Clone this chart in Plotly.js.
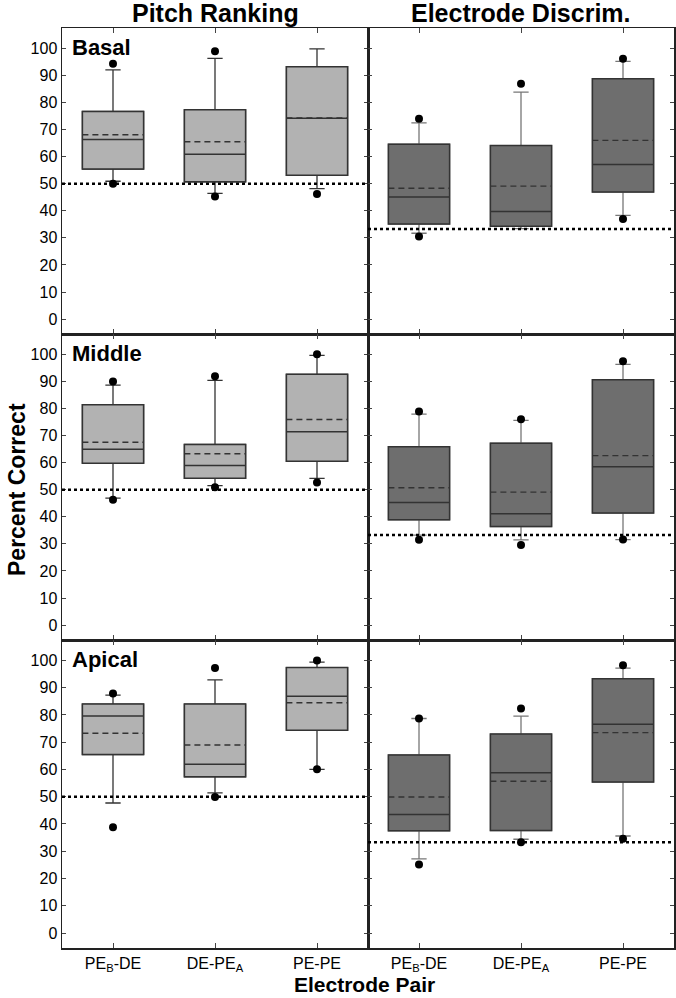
<!DOCTYPE html>
<html><head><meta charset="utf-8">
<script src="https://cdn.plot.ly/plotly-3.0.1.min.js"></script>
<style>body{margin:0;background:#fff}#c{width:676px;height:998px}</style>
</head><body><div id="c"></div>
<script>
// Categories and tick labels
const categories = [0, 1, 2];
const tickLabels = ["PE<sub>B</sub>-DE", "DE-PE<sub>A</sub>", "PE-PE"];
const regions = ["Basal", "Middle", "Apical"];
const tasks = ["Pitch Ranking", "Electrode Discrim."];
const chance = [50, 33.3];

// Pitch Ranking — Basal
const prBasal_q1 = [55.4, 50.7, 53.1];
const prBasal_med = [66.3, 60.9, 74.2];
const prBasal_q3 = [76.7, 77.3, 93.2];
const prBasal_lo = [50.9, 46.4, 48.2];
const prBasal_hi = [92.0, 96.3, 99.8];
const prBasal_mean = [68.1, 65.5, 74.3];
const prBasal_dotLo = [50.0, 45.3, 46.2];
const prBasal_dotHi = [94.3, 98.9, null];

// Electrode Discrim — Basal
const edBasal_q1 = [35.1, 34.3, 46.9];
const edBasal_med = [45.1, 39.7, 57.1];
const edBasal_q3 = [64.6, 64.1, 88.8];
const edBasal_lo = [31.7, 33.4, 38.3];
const edBasal_hi = [72.5, 83.8, 95.2];
const edBasal_mean = [48.3, 49.1, 66.0];
const edBasal_dotLo = [30.5, null, 37.0];
const edBasal_dotHi = [74.0, 86.9, 96.1];

// Pitch Ranking — Middle
const prMid_q1 = [59.8, 54.2, 60.5];
const prMid_med = [64.9, 58.9, 71.4];
const prMid_q3 = [81.4, 66.7, 92.6];
const prMid_lo = [46.9, 51.5, 54.2];
const prMid_hi = [88.6, 90.4, 99.6];
const prMid_mean = [67.5, 63.3, 75.9];
const prMid_dotLo = [46.3, 50.9, 52.7];
const prMid_dotHi = [90.0, 91.9, 100.0];

// Electrode Discrim — Middle
const edMid_q1 = [38.9, 36.4, 41.4];
const edMid_med = [45.3, 41.1, 58.5];
const edMid_q3 = [65.9, 67.2, 90.6];
const edMid_lo = [33.2, 31.5, 31.6];
const edMid_hi = [77.9, 75.6, 96.3];
const edMid_mean = [50.7, 49.1, 62.6];
const edMid_dotLo = [31.5, 29.6, 31.6];
const edMid_dotHi = [78.9, 76.0, 97.4];

// Pitch Ranking — Apical
const prApi_q1 = [65.5, 57.3, 74.4];
const prApi_med = [79.6, 61.9, 86.9];
const prApi_q3 = [84.0, 84.0, 97.4];
const prApi_lo = [47.7, 51.4, 60.0];
const prApi_hi = [87.3, 92.9, 99.4];
const prApi_mean = [73.3, 69.0, 84.5];
const prApi_dotLo = [38.8, 49.9, 60.1];
const prApi_dotHi = [87.9, 97.2, 100.0];

// Electrode Discrim — Apical
const edApi_q1 = [37.5, 37.6, 55.4];
const edApi_med = [43.5, 58.8, 76.6];
const edApi_q3 = [65.3, 73.0, 93.3];
const edApi_lo = [27.2, 34.4, 35.6];
const edApi_hi = [78.7, 79.6, 97.2];
const edApi_mean = [49.9, 55.7, 73.5];
const edApi_dotLo = [25.1, 33.3, 34.6];
const edApi_dotHi = [78.7, 82.4, 98.2];

const panels = [
  [prBasal_q1, prBasal_med, prBasal_q3, prBasal_lo, prBasal_hi, prBasal_mean, prBasal_dotLo, prBasal_dotHi],
  [edBasal_q1, edBasal_med, edBasal_q3, edBasal_lo, edBasal_hi, edBasal_mean, edBasal_dotLo, edBasal_dotHi],
  [prMid_q1, prMid_med, prMid_q3, prMid_lo, prMid_hi, prMid_mean, prMid_dotLo, prMid_dotHi],
  [edMid_q1, edMid_med, edMid_q3, edMid_lo, edMid_hi, edMid_mean, edMid_dotLo, edMid_dotHi],
  [prApi_q1, prApi_med, prApi_q3, prApi_lo, prApi_hi, prApi_mean, prApi_dotLo, prApi_dotHi],
  [edApi_q1, edApi_med, edApi_q3, edApi_lo, edApi_hi, edApi_mean, edApi_dotLo, edApi_dotHi]
];

const W = 676, H = 998;
const colPx = [[62, 368], [368, 674]];
const rowPx = [[28, 334], [334, 640], [640, 948]];
const fills = ["#b2b2b2", "#6e6e6e"];
const whiskerColors = ["#333333", "#777777"];
const FONT = "Liberation Sans, Arial, sans-serif";
const BOXW = 0.6;

const traces = [];
const layout = {
  width: W, height: H, margin: {l: 0, r: 0, t: 0, b: 0},
  paper_bgcolor: "#fff", plot_bgcolor: "#fff", showlegend: false,
  font: {family: FONT, color: "#000", size: 15},
  shapes: [], annotations: []
};

panels.forEach((p, i) => {
  const r = Math.floor(i / 2), c = i % 2;
  const n = i + 1;
  const xa = "x" + (n === 1 ? "" : n), ya = "y" + (n === 1 ? "" : n);
  const xk = "xaxis" + (n === 1 ? "" : n), yk = "yaxis" + (n === 1 ? "" : n);
  traces.push({
    type: "box", x: categories, xaxis: xa, yaxis: ya,
    q1: p[0], median: p[1], q3: p[2], lowerfence: p[3], upperfence: p[4],
    boxpoints: false, width: BOXW, whiskerwidth: 0.25,
    fillcolor: fills[c], line: {color: whiskerColors[c], width: 1.3},
    hoverinfo: "skip"
  });
  traces.push({
    type: "box", x: categories, xaxis: xa, yaxis: ya,
    q1: p[0], median: p[1], q3: p[2], lowerfence: p[0], upperfence: p[2],
    boxpoints: false, width: BOXW, whiskerwidth: 0,
    fillcolor: fills[c], line: {color: "#333333", width: 1.5},
    hoverinfo: "skip"
  });
  const mx = [], my = [];
  categories.forEach((cat, k) => {
    mx.push(cat - BOXW / 2, cat + BOXW / 2, null);
    my.push(p[5][k], p[5][k], null);
  });
  traces.push({
    type: "scatter", mode: "lines", xaxis: xa, yaxis: ya, x: mx, y: my,
    line: {color: "#333333", width: 1.4, dash: "6px,4px"}, hoverinfo: "skip"
  });
  traces.push({
    type: "scatter", mode: "markers", xaxis: xa, yaxis: ya,
    x: categories.concat(categories), y: p[6].concat(p[7]),
    marker: {color: "#000", size: 8}, hoverinfo: "skip"
  });
  layout[xk] = {
    domain: [colPx[c][0] / W, colPx[c][1] / W], anchor: ya,
    range: [-0.5, 2.5], tickvals: categories, ticktext: tickLabels,
    showticklabels: r === 2, ticks: "inside", ticklen: 5, tickcolor: "#444",
    mirror: "allticks", showline: true, linecolor: "#222", linewidth: 1.5,
    showgrid: false, zeroline: false, tickfont: {size: 16, family: FONT}
  };
  layout[yk] = {
    domain: [1 - rowPx[r][1] / H, 1 - rowPx[r][0] / H], anchor: xa,
    range: [-5.5, 107.5], tickvals: [0,10,20,30,40,50,60,70,80,90,100],
    showticklabels: c === 0, ticks: "inside", ticklen: 4, tickcolor: "#444",
    mirror: "allticks", showline: true, linecolor: "#222", linewidth: 1.5,
    showgrid: false, zeroline: false, tickfont: {size: 16, family: FONT}
  };
  layout.shapes.push({
    type: "line", xref: xa + " domain", yref: ya, x0: 0, x1: 1,
    y0: chance[c], y1: chance[c], line: {color: "#000", width: 2.5, dash: "dot"}
  });
  if (c === 0) {
    layout.annotations.push({
      text: "<b>" + regions[r] + "</b>", xref: xa + " domain", yref: ya + " domain",
      x: 0.025, y: 0.985, xanchor: "left", yanchor: "top", showarrow: false,
      font: {size: 22, family: FONT, color: "#000"}
    });
  }
});

tasks.forEach((t, c) => {
  layout.annotations.push({
    text: "<b>" + t + "</b>", xref: "paper", yref: "paper",
    x: (colPx[c][0] + colPx[c][1]) / 2 / W, y: 1 - 13 / H,
    xanchor: "center", yanchor: "middle", showarrow: false,
    font: {size: 25, family: FONT, color: "#000"}
  });
});
layout.annotations.push({
  text: "<b>Electrode Pair</b>", xref: "paper", yref: "paper",
  x: 364 / W, y: 1 - 984 / H, xanchor: "center", yanchor: "middle", showarrow: false,
  font: {size: 21, family: FONT, color: "#000"}
});
layout.annotations.push({
  text: "<b>Percent Correct</b>", xref: "paper", yref: "paper",
  x: 17 / W, y: 1 - 490 / H, xanchor: "center", yanchor: "middle", showarrow: false,
  textangle: -90, font: {size: 23, family: FONT, color: "#000"}
});

Plotly.newPlot("c", traces, layout, {displayModeBar: false, staticPlot: true});
</script></body></html>
